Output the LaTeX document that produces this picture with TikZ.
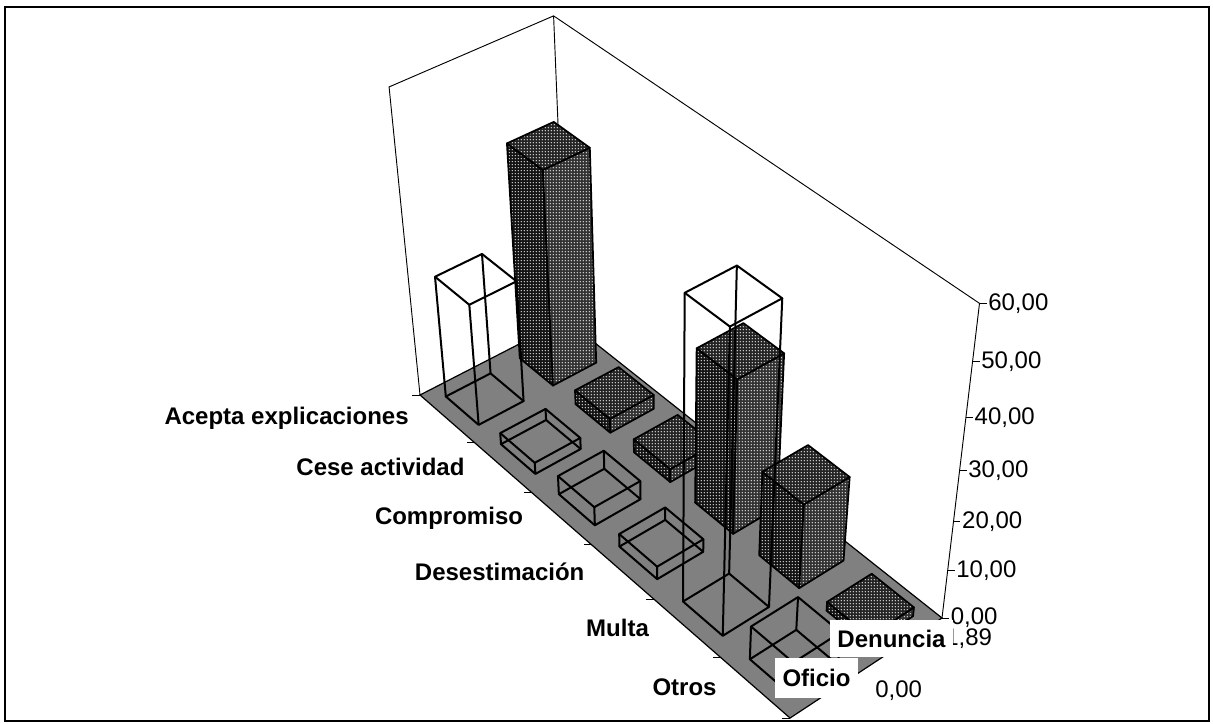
\documentclass[tikz,border=0pt]{standalone}
\usepackage{fontspec}
\setmainfont{Liberation Sans}
\usetikzlibrary{patterns}

% perspective of the chart (units of 100px, y downwards)
\newcommand{\prja}{2.634}
\newcommand{\prjb}{1.6785}
\newcommand{\prjc}{4.20}
\newcommand{\prjd}{2.261}
\newcommand{\prje}{-0.6265}
\newcommand{\prjf}{3.95}
\newcommand{\prjg}{-0.13497}
\newcommand{\prjh}{0.0386}
\newcommand{\prjp}{-0.736}
\newcommand{\prjq}{-3.176}
\newcommand{\prjr}{-0.1097}

% point of the chart: name, category, series, value
\newcommand{\chartpt}[4]{%
  \pgfmathsetmacro\prjs{(#2)/6}%
  \pgfmathsetmacro\prjt{(#3)/2}%
  \pgfmathsetmacro\prjz{(#4)/60}%
  \pgfmathsetmacro\prjw{1+\prjg*\prjs+\prjh*\prjt+\prjr*\prjz}%
  \pgfmathsetmacro\prjx{(\prja*\prjs+\prjb*\prjt+\prjc+\prjp*\prjz)/\prjw}%
  \pgfmathsetmacro\prjy{(\prjd*\prjs+\prje*\prjt+\prjf+\prjq*\prjz)/\prjw}%
  \coordinate (#1) at (\prjx,\prjy);}

% corners of one bar
\newcommand{\barpts}[3]{%
  \chartpt{a0}{#1+0.2}{#2+0.2}{0}%
  \chartpt{b0}{#1+0.8}{#2+0.2}{0}%
  \chartpt{c0}{#1+0.8}{#2+0.8}{0}%
  \chartpt{d0}{#1+0.2}{#2+0.8}{0}%
  \chartpt{a1}{#1+0.2}{#2+0.2}{#3}%
  \chartpt{b1}{#1+0.8}{#2+0.2}{#3}%
  \chartpt{c1}{#1+0.8}{#2+0.8}{#3}%
  \chartpt{d1}{#1+0.2}{#2+0.8}{#3}}

% Denuncia: dotted bar
\newcommand{\dotbar}[3]{%
  \barpts{#1}{#2}{#3}%
  \path[dotface, preaction={fill=black!92}] (a0) -- (b0) -- (b1) -- (a1) -- cycle;
  \path[dotface, preaction={fill=black!80}] (b0) -- (c0) -- (c1) -- (b1) -- cycle;
  \path[dotface, preaction={fill=black!86}] (a1) -- (b1) -- (c1) -- (d1) -- cycle;}

% Oficio: open bar
\newcommand{\wirebar}[3]{%
  \barpts{#1}{#2}{#3}%
  \draw[wire] (a0) -- (b0) -- (c0) -- (d0) -- cycle;
  \draw[wire] (a1) -- (b1) -- (c1) -- (d1) -- cycle;
  \draw[wire] (a0) -- (a1) (b0) -- (b1) (c0) -- (c1) (d0) -- (d1);}

\pgfdeclarepatternformonly{meshdots}{\pgfpointorigin}{\pgfqpoint{2.4pt}{2.4pt}}{\pgfqpoint{2.4pt}{2.4pt}}{%
  \pgfpathcircle{\pgfqpoint{1.2pt}{1.2pt}}{0.55pt}\pgfusepath{fill}}

\tikzset{
  wall/.style={draw=black, line width=0.7pt},
  floor/.style={fill=black!50, draw=black, line width=0.9pt},
  wire/.style={draw=black, line width=1.5pt, line join=round},
  dotface/.style={pattern=meshdots, pattern color=white, draw=black, line width=1.3pt, line join=round},
  catlabel/.style={anchor=east, font=\fontsize{18}{20}\selectfont\bfseries, inner sep=0pt},
  vallabel/.style={anchor=west, inner sep=1pt},
  keybox/.style={fill=white, font=\fontsize{18}{20}\selectfont\bfseries, inner sep=0pt}
}

\begin{document}
\begin{tikzpicture}[x=75pt, y=-75pt, font=\fontsize{18}{20}\selectfont]
\useasboundingbox (0,0) rectangle (12.13,7.24);
\draw[line width=1pt] (0.05,0.07) rectangle (12.09,7.21);

% floor and walls
\chartpt{L}{0}{0}{0}
\chartpt{F}{6}{0}{0}
\chartpt{R}{6}{2}{0}
\chartpt{B}{0}{2}{0}
\chartpt{Lt}{0}{0}{60}
\chartpt{Bt}{0}{2}{60}
\chartpt{Rt}{6}{2}{60}
\draw[wall] (L) -- (Lt) -- (Bt) -- (Rt) -- (R);
\draw[wall] (B) -- (Bt);
\filldraw[floor] (L) -- (F) -- (R) -- (B) -- cycle;

% value axis
\foreach \z in {0,10,...,60} {
  \chartpt{v\z}{6}{2}{\z}
  \draw[wall] (v\z) -- ++(0.07,0) node[vallabel] (val\z) {\z,00};
}

% category axis
\foreach \k in {0,...,6} {
  \chartpt{t\k}{\k}{0}{0}
  \draw[wall] (t\k) -- ++(-0.08,0);
}
\foreach \k/\lab in {0/Acepta explicaciones, 1/Cese actividad, 2/Compromiso,
                     3/Desestimación, 4/Multa, 5/Otros} {
  \chartpt{m\k}{\k+0.5}{0}{0}
  \node[catlabel] (cat\k) at ([xshift=-28.5pt]m\k) {\lab};
}

% bars, back to front
\foreach \k/\den/\ofi in {0/43.5/25, 1/3/2.4, 2/2.8/3.9, 3/31.5/2.7, 4/17.5/59, 5/1.89/7} {
  \dotbar{\k}{1}{\den}
  \wirebar{\k}{0}{\ofi}
}

% series labels
\node[vallabel, inner sep=0pt] (den) at (9.45,6.39) {1,89};
\node[keybox, minimum width=92pt, minimum height=27.75pt] (denuncia) at (8.915,6.385) {Denuncia};
\node[keybox, minimum width=62pt, minimum height=30pt] (oficio) at (8.165,6.78) {Oficio};
\node[vallabel, inner sep=0pt] (ofi) at (8.75,6.91) {0,00};
\end{tikzpicture}
\end{document}
